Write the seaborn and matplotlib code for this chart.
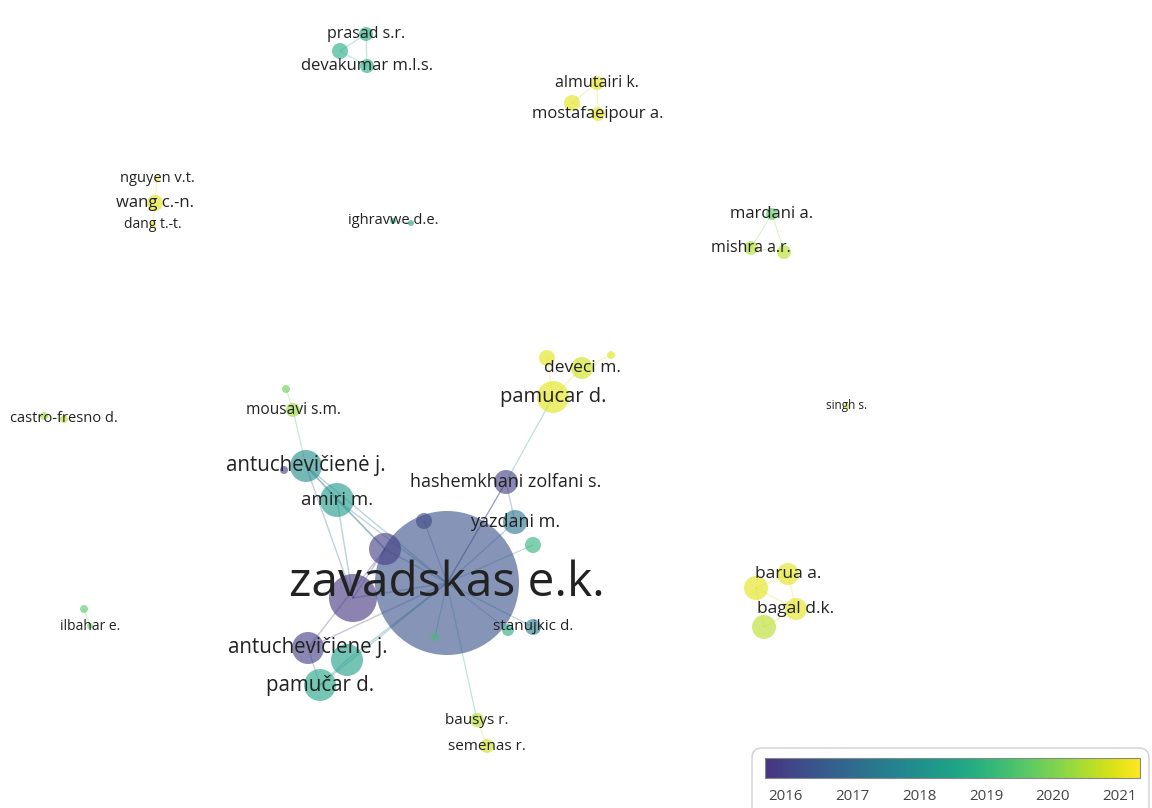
import numpy as np
import pandas as pd
import seaborn as sns
import matplotlib.pyplot as plt
from matplotlib.colors import ListedColormap, Normalize
from matplotlib.patches import FancyBboxPatch
import matplotlib.cm as cm

# ------------------------------------------------------
# Data: co-authorship network (overlay by avg. publication year)
# ------------------------------------------------------
labels = ["prasad s.r.", "", "devakumar m.l.s.",
          "almutairi k.", "", "mostafaeipour a.",
          "nguyen v.t.", "wang c.-n.", "dang t.-t.",
          "ighravwe d.e.", "",
          "mardani a.", "mishra a.r.", "",
          "", "", "deveci m.", "pamucar d.",
          "singh s.",
          "castro-fresno d.", "",
          "", "mousavi s.m.",
          "antuchevičienė j.", "", "amiri m.", "hashemkhani zolfani s.", "yazdani m.",
          "", "", "", "zavadskas e.k.", "",
          "stanujkic d.", "", "", "antuchevičiene j.", "", "pamučar d.",
          "bausys r.", "semenas r.",
          "barua a.", "", "bagal d.k.", "",
          "", "ilbahar e."]
node_x = [366, 340, 367,
          597, 572, 598,
          157, 155, 153,
          393, 411,
          772, 751, 784,
          547, 611, 582, 553,
          847,
          64, 44,
          286, 293,
          306, 284, 337, 506, 515,
          533, 424, 385, 447, 353,
          533, 508, 435, 308, 347, 320,
          477, 487,
          788, 756, 796, 764,
          84, 90]
node_y = [34, 51, 66,
          83, 103, 114,
          178, 203, 225,
          221, 223,
          214, 248, 252,
          358, 355, 368, 397,
          406,
          419, 416,
          389, 410,
          466, 470, 500, 482, 522,
          545, 521, 549, 583, 598,
          627, 630, 637, 648, 660, 685,
          720, 746,
          574, 588, 609, 627,
          609, 626]
weight = [7, 8, 7,
          7, 8, 7,
          3, 8, 3,
          3, 3,
          6, 7, 7,
          8, 4, 11, 16,
          3,
          4, 4,
          4, 7,
          16, 4, 17, 12, 12,
          8, 8, 16, 72, 24,
          8, 6, 4, 16, 16, 16,
          7, 7,
          11, 12, 11, 12,
          4, 3]
avg_year = [2018.7, 2018.8, 2018.7,
            2021.0, 2021.0, 2021.0,
            2021.0, 2021.0, 2021.0,
            2018.9, 2018.6,
            2019.6, 2020.5, 2020.6,
            2021.0, 2021.0, 2020.8, 2021.0,
            2020.5,
            2020.6, 2020.4,
            2019.8, 2020.3,
            2017.9, 2015.9, 2018.3, 2015.9, 2017.3,
            2019.0, 2016.2, 2015.9, 2016.4, 2015.8,
            2017.4, 2018.8, 2019.3, 2015.9, 2018.4, 2018.6,
            2020.6, 2020.8,
            2021.0, 2021.0, 2021.0, 2020.6,
            2019.6, 2019.8]
label_size = [11.5, 0, 12,
              11.5, 0, 12,
              10.5, 12, 10,
              10.5, 0,
              12, 11.5, 0,
              0, 0, 12.5, 14.5,
              8.5,
              10.5, 0,
              0, 11.2,
              14.8, 0, 13.5, 13, 13,
              0, 0, 0, 34.5, 0,
              11, 0, 0, 14.8, 0, 14.8,
              11, 11,
              12.5, 0, 12.5, 0,
              0, 10]
edge_src = [0, 0, 1, 3, 3, 4, 6, 7, 9, 11, 11, 12,
            14, 16, 15, 17, 26,
            19, 21, 22,
            31, 31, 31, 31, 31, 31, 31, 31, 31, 31, 31, 31, 31, 31, 31,
            26, 25, 25, 23, 30, 36, 36, 37, 25, 23, 39,
            41, 41, 42, 43, 42, 45]
edge_dst = [1, 2, 2, 4, 5, 5, 7, 8, 10, 12, 13, 13,
            17, 17, 16, 26, 31,
            20, 22, 23,
            23, 25, 26, 27, 28, 29, 30, 32, 33, 34, 35, 36, 37, 38, 39,
            27, 23, 30, 32, 32, 30, 38, 38, 32, 30, 40,
            42, 43, 43, 44, 44, 46]

nodes = pd.DataFrame({"x": node_x, "y": node_y, "w": weight, "year": avg_year})
nodes["s"] = (1.44 * nodes["w"]) ** 2

# colour scale (VOSviewer-like viridis)
cmap = ListedColormap(plt.cm.viridis(np.linspace(0.15, 1.0, 256)))
norm = Normalize(2015.7, 2021.3)

# ------------------------------------------------------
# Plot
# ------------------------------------------------------
sns.set_theme(style="white")
plt.rcParams['font.family'] = ['Open Sans', 'DejaVu Sans']

fig = plt.figure(figsize=(11.52, 8.08), dpi=100)
ax = fig.add_axes([0, 0, 1, 1])

# links
for a, b in zip(edge_src, edge_dst):
    yr = (avg_year[a] + avg_year[b]) / 2
    lw = 0.7 + 0.02 * min(weight[a], weight[b])
    ax.plot([node_x[a], node_x[b]], [node_y[a], node_y[b]],
            color=cmap(norm(yr)), alpha=0.3, lw=lw, zorder=1, solid_capstyle='round')

# nodes (big first, small on top)
order = nodes.sort_values("w", ascending=False)
sns.scatterplot(data=order, x="x", y="y", hue="year", size="s",
                sizes=(order["s"].min(), order["s"].max()),
                size_norm=(order["s"].min(), order["s"].max()),
                palette=cmap, hue_norm=norm, alpha=0.62, linewidth=0,
                legend=False, ax=ax, zorder=2)
ax.set_xlim(0, 1152)
ax.set_ylim(808, 0)
ax.axis('off')

# labels
for lab, x, y, fs in zip(labels, node_x, node_y, label_size):
    if lab:
        ax.text(x, y, lab, fontsize=fs, color='#222222', ha='center', va='center', zorder=5)

# colour legend
box = FancyBboxPatch((752, 748), 397, 80, boxstyle="round,pad=0,rounding_size=10",
                     transform=ax.transData, facecolor='white', edgecolor='#d0d0d0',
                     lw=1.0, zorder=6)
ax.add_patch(box)
cax = fig.add_axes([765 / 1152, 1 - 778 / 808, 375 / 1152, 20 / 808])
cb = fig.colorbar(cm.ScalarMappable(norm=norm, cmap=cmap), cax=cax, orientation='horizontal')
cb.set_ticks([2016, 2017, 2018, 2019, 2020, 2021])
cb.ax.tick_params(direction='in', length=7, width=1, color='#777777',
                  labelsize=10.8, labelcolor='#444444', pad=8)
cb.outline.set_edgecolor('#888888')
cb.outline.set_linewidth(0.8)

plt.savefig("out.png", dpi=100)
